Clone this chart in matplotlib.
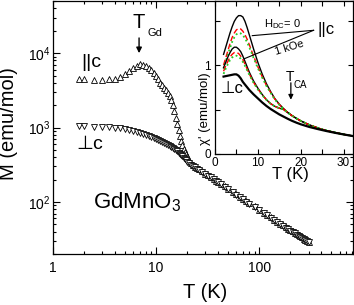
import matplotlib
matplotlib.use('Agg')
import matplotlib.pyplot as plt
from matplotlib.ticker import FixedLocator, FixedFormatter, LogLocator, NullFormatter, MultipleLocator

plt.rcParams['font.family'] = ['Liberation Sans', 'DejaVu Sans']
plt.rcParams['mathtext.fontset'] = 'custom'
plt.rcParams['mathtext.rm'] = 'Liberation Sans'
plt.rcParams['mathtext.it'] = 'Liberation Sans:italic'
plt.rcParams['mathtext.bf'] = 'Liberation Sans:bold'
plt.rcParams['mathtext.sf'] = 'Liberation Sans'

# ---------------- main panel data: M(T) ----------------
T_main = [1.8, 2.0, 2.5, 3.0, 3.5, 4.0, 4.5, 5.0, 5.5, 6.0, 6.5, 7.0, 7.5, 8.0, 8.5, 9.0,
          9.5, 10, 10.5, 11, 11.5, 12, 12.5, 13, 13.5, 14, 14.5, 15, 15.5, 16, 16.5, 17,
          17.5, 18, 18.5, 19, 19.5, 20, 21, 22, 23, 24, 25, 26, 28, 30, 32, 34, 36, 38,
          40, 43, 46, 50, 55, 60, 65, 70, 75, 80, 90, 100, 110, 120, 130, 140, 150, 160,
          170, 180, 190, 200, 210, 220, 230, 240, 250, 260, 270, 280, 290, 300]
M_par = [4500, 4500, 4380, 4370, 4450, 4550, 4850, 5250, 5750, 6250, 6750, 7050, 7000, 6750,
         6350, 5900, 5400, 4900, 4450, 4000, 3700, 3450, 3200, 2950, 2650, 2350, 2000, 1650,
         1330, 1100, 920, 770, 660, 575, 520, 475, 440, 410, 365, 335, 312, 298, 286, 276,
         257, 241, 228, 215, 204, 194, 185, 174, 163, 151, 138, 127, 118, 110, 103, 97, 87,
         79, 72, 67, 62, 58, 54.5, 51, 48.5, 46, 44, 42, 40.3, 38.7, 37.2, 35.9, 34.6, 33.4,
         32.3, 31.3, 30.3, 29.4]
M_perp = [1040, 1040, 1030, 1020, 1010, 1000, 985, 965, 940, 910, 880, 850, 820, 795, 770,
          745, 720, 700, 680, 660, 640, 620, 600, 580, 562, 545, 528, 511, 495, 480, 462,
          445, 427, 410, 395, 378, 362, 348, 330, 315, 302, 291, 281, 272, 255, 240, 226,
          214, 203, 193, 184, 172, 161, 149, 136, 125, 116, 108, 101, 95, 85, 77, 71, 66,
          61, 57, 53.5, 50, 47.5, 45, 43, 41, 39.4, 37.8, 36.4, 35.1, 33.9, 32.8, 31.7,
          30.7, 29.8, 28.9]
x_ticks = [1, 10, 100]
x_ticklabels = ['1', '10', '100']
y_ticks = [1e2, 1e3, 1e4]
y_ticklabels = [r'$10^2$', r'$10^3$', r'$10^4$']

# ---------------- inset data: chi'(T) ----------------
T_in = [2, 2.5, 3, 3.5, 4, 4.5, 5, 5.5, 6, 6.5, 7, 7.5, 8, 9, 10, 11, 12, 13, 14, 15, 16,
        17, 18, 19, 20, 22, 24, 26, 28, 30, 32]
chi_h0_black = [1.12, 1.20, 1.28, 1.36, 1.43, 1.49, 1.53, 1.555, 1.555, 1.54, 1.49, 1.42,
                1.34, 1.18, 1.03, 0.90, 0.79, 0.70, 0.62, 0.56, 0.51, 0.465, 0.43, 0.40,
                0.372, 0.327, 0.292, 0.263, 0.241, 0.221, 0.204]
chi_h0_red = [1.00, 1.08, 1.16, 1.24, 1.31, 1.36, 1.395, 1.41, 1.405, 1.38, 1.34, 1.29,
              1.23, 1.10, 0.98, 0.87, 0.77, 0.69, 0.615, 0.555, 0.51, 0.465, 0.43, 0.40,
              0.372, 0.327, 0.292, 0.263, 0.241, 0.221, 0.204]
chi_h0_green = [0.96, 1.04, 1.12, 1.19, 1.26, 1.31, 1.345, 1.36, 1.355, 1.335, 1.30, 1.255,
                1.20, 1.08, 0.965, 0.86, 0.765, 0.685, 0.61, 0.553, 0.508, 0.465, 0.43,
                0.40, 0.372, 0.327, 0.292, 0.263, 0.241, 0.221, 0.204]
chi_h1_black = [0.97, 1.03, 1.09, 1.14, 1.18, 1.20, 1.20, 1.18, 1.15, 1.10, 1.04, 0.98,
                0.92, 0.82, 0.74, 0.67, 0.61, 0.565, 0.535, 0.515, 0.50, 0.465, 0.43, 0.40,
                0.372, 0.327, 0.292, 0.263, 0.241, 0.221, 0.204]
chi_h1_red = [0.93, 0.99, 1.04, 1.09, 1.12, 1.14, 1.14, 1.13, 1.10, 1.06, 1.01, 0.955,
              0.90, 0.805, 0.73, 0.665, 0.61, 0.565, 0.535, 0.515, 0.50, 0.465, 0.43, 0.40,
              0.372, 0.327, 0.292, 0.263, 0.241, 0.221, 0.204]
chi_h1_green = [0.90, 0.96, 1.01, 1.055, 1.085, 1.10, 1.105, 1.095, 1.07, 1.035, 0.99,
                0.94, 0.89, 0.80, 0.725, 0.662, 0.608, 0.563, 0.534, 0.514, 0.50, 0.465,
                0.43, 0.40, 0.372, 0.327, 0.292, 0.263, 0.241, 0.221, 0.204]
chi_perp = [0.87, 0.875, 0.88, 0.885, 0.89, 0.895, 0.895, 0.88, 0.85, 0.81, 0.78, 0.75,
            0.72, 0.67, 0.625, 0.58, 0.54, 0.505, 0.475, 0.445, 0.42, 0.395, 0.372, 0.352,
            0.334, 0.304, 0.28, 0.258, 0.238, 0.22, 0.203]
in_x_major = [0, 10, 20, 30]
in_y_major = [0, 1]

W, H = 354, 305
fig = plt.figure(figsize=(W / 100, H / 100), dpi=100)
fig.patch.set_facecolor('white')

# main axes (pixel box)
ax = fig.add_axes([53 / W, (H - 254) / H, 300 / W, 253.5 / H])
ax.set_xscale('log')
ax.set_yscale('log')
ax.plot(T_main, M_par, linestyle='none', marker='^', ms=5, mfc='white', mec='black', mew=0.6)
ax.plot(T_main, M_perp, linestyle='none', marker='v', ms=5, mfc='white', mec='black', mew=0.6)
ax.set_xlim(1, 810)
ax.set_ylim(20, 5.1e4)
ax.xaxis.set_major_locator(FixedLocator(x_ticks))
ax.xaxis.set_major_formatter(FixedFormatter(x_ticklabels))
ax.xaxis.set_minor_locator(LogLocator(base=10, subs=range(2, 10), numticks=20))
ax.xaxis.set_minor_formatter(NullFormatter())
ax.yaxis.set_major_locator(FixedLocator(y_ticks))
ax.yaxis.set_major_formatter(FixedFormatter(y_ticklabels))
ax.yaxis.set_minor_locator(LogLocator(base=10, subs=range(2, 10), numticks=20))
ax.yaxis.set_minor_formatter(NullFormatter())
ax.tick_params(which='both', direction='in', top=True, right=True, width=0.8)
ax.tick_params(which='major', length=5)
ax.tick_params(which='minor', length=2.5)
ax.tick_params(axis='x', which='major', labelsize=10, pad=5)
ax.tick_params(axis='y', which='major', labelsize=10, pad=2)
for s in ax.spines.values():
    s.set_linewidth(0.9)

fig.text(9 / W, 1 - 124 / H, 'M (emu/mol)', rotation=90, ha='center', va='center', fontsize=14.5)
fig.text(205 / W, 1 - 293 / H, 'T (K)', ha='center', va='center', fontsize=14.5)

ax.annotate('', xy=(6.83, 1.0e4), xytext=(6.83, 1.6e4),
            arrowprops=dict(arrowstyle='-|>', color='black', lw=1.0, mutation_scale=8,
                            shrinkA=0, shrinkB=0))
ax.text(6.83, 2.6e4, 'T', ha='center', va='center', fontsize=14.5)
ax.text(9.8, 1.85e4, 'Gd', ha='center', va='center', fontsize=8)
ax.text(2.34, 7570, '||c', ha='center', va='center', fontsize=14)
ax.text(2.29, 592, '\u22a5c', ha='center', va='center', fontsize=14)
ax.text(2.45, 83, r'GdMnO$_3$', ha='left', va='baseline', fontsize=16)

# inset
ins = fig.add_axes([215 / W, (H - 154) / H, 138 / W, 153.5 / H])
ins.plot(T_in, chi_h0_black, color='black', lw=1.0)
ins.plot(T_in, chi_h0_red, color='red', lw=1.0, ls=(0, (4, 2)))
ins.plot(T_in, chi_h0_green, color='#22cc22', lw=1.3, ls=(0, (1, 1.5)))
ins.plot(T_in, chi_h1_black, color='black', lw=1.0)
ins.plot(T_in, chi_h1_red, color='red', lw=1.0, ls=(0, (4, 2)))
ins.plot(T_in, chi_h1_green, color='#22cc22', lw=1.3, ls=(0, (1, 1.5)))
ins.plot(T_in, chi_perp, color='black', lw=1.6)
ins.set_xlim(0, 32.2)
ins.set_ylim(0, 1.725)
ins.xaxis.set_major_locator(FixedLocator(in_x_major))
ins.xaxis.set_minor_locator(MultipleLocator(5))
ins.yaxis.set_major_locator(FixedLocator(in_y_major))
ins.yaxis.set_minor_locator(MultipleLocator(0.5))
ins.tick_params(which='both', direction='in', top=True, right=True, width=0.8, length=3.5)
ins.tick_params(axis='x', labelsize=8.5, pad=2)
ins.tick_params(axis='y', labelsize=8.5, pad=3)
for s in ins.spines.values():
    s.set_linewidth(0.9)
fig.text(290 / W, 1 - 175 / H, 'T (K)', ha='center', va='center', fontsize=12)
fig.text(205 / W, 1 - 109 / H, "\u03c7' (emu/mol)", rotation=90, ha='center', va='center',
         fontsize=9.5)

ins.text(15.8, 1.46, r'H$_{\mathrm{DC}}$= 0', ha='center', va='center', fontsize=8)
ins.text(17.4, 1.19, '1 kOe', ha='center', va='center', fontsize=8, rotation=17)
ins.text(26.0, 1.40, '||c', ha='center', va='center', fontsize=12)
ins.plot([23.0, 8.7], [1.39, 1.33], color='black', lw=0.8)
ins.plot([23.0, 6.8], [1.39, 1.07], color='black', lw=0.8)
ins.text(3.95, 0.74, '\u22a5c', ha='center', va='center', fontsize=12)
ins.annotate('', xy=(17.7, 0.61), xytext=(17.7, 0.80),
             arrowprops=dict(arrowstyle='-|>', color='black', lw=0.9, mutation_scale=7,
                             shrinkA=0, shrinkB=0))
ins.text(17.6, 0.87, 'T', ha='center', va='center', fontsize=10)
ins.text(19.95, 0.775, 'CA', ha='center', va='center', fontsize=7)

fig.savefig('out.png', dpi=100)
